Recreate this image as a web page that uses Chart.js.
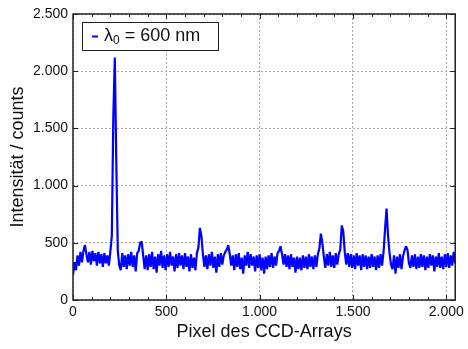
<!DOCTYPE html>
<html>
<head>
  <meta charset="utf-8">
  <title>Spektrum λ0 = 600 nm</title>
  <style>
    html, body { margin: 0; padding: 0; background: #fff; }
    .chart-container { position: relative; width: 468px; height: 349px; }
  </style>
</head>
<body>
  <div class="chart-container">
    <canvas id="myChart" width="468" height="349"></canvas>
  </div>

  <script src="https://cdn.jsdelivr.net/npm/chart.js"></script>
  <script>
    const counts = [
      220, 330, 260, 390, 300, 420, 330, 430, 480, 400, 330, 420, 310, 430, 340, 410,
      300, 420, 320, 400, 290, 410, 320, 390, 300, 420, 560, 1600, 2120, 1200, 430, 300,
      260, 410, 290, 390, 270, 400, 300, 420, 290, 390, 250, 410, 430, 500, 510, 390,
      270, 390, 260, 400, 290, 420, 270, 380, 240, 400, 300, 430, 280, 390, 260, 400,
      290, 420, 300, 380, 250, 400, 280, 410, 300, 390, 270, 410, 290, 380, 250, 400,
      280, 370, 260, 410, 460, 630, 560, 400, 290, 390, 270, 400, 300, 420, 280, 380,
      240, 400, 290, 410, 310, 390, 420, 440, 480, 400, 300, 390, 260, 400, 290, 410,
      270, 370, 230, 390, 300, 420, 280, 400, 300, 380, 250, 390, 280, 400, 260, 370,
      230, 380, 270, 390, 290, 410, 280, 380, 300, 410, 430, 470, 400, 310, 400, 290,
      390, 270, 400, 290, 370, 240, 380, 270, 370, 260, 390, 280, 380, 270, 400, 290,
      380, 270, 390, 290, 400, 450, 580, 500, 380, 280, 400, 300, 420, 290, 390, 280,
      410, 310, 400, 440, 650, 600, 420, 310, 410, 290, 400, 280, 390, 270, 410, 300,
      390, 260, 400, 290, 390, 270, 380, 280, 400, 290, 380, 260, 390, 280, 400, 300,
      420, 620, 800, 560, 410, 310, 270, 390, 230, 380, 280, 400, 270, 380, 430, 470,
      440, 320, 280, 390, 290, 400, 270, 380, 280, 400, 290, 390, 260, 380, 280, 400,
      300, 390, 250, 380, 290, 410, 280, 380, 270, 400, 290, 410, 280, 390, 300, 420,
      320
    ];
    const pixel = counts.map((_, i) => i * 8);

    const xTicks = [0, 500, 1000, 1500, 2000];
    const yTicks = [0, 500, 1000, 1500, 2000, 2500];
    const xMinorStep = 100;

    const xTitle = 'Pixel des CCD-Arrays';
    const yTitle = 'Intensität / counts';
    const legendSymbol = 'λ';
    const legendSub = '0';
    const legendRest = ' = 600 nm';

    const lineColor = '#0000ff';
    const fontFamily = '"Liberation Sans", Arial, sans-serif';

    const fmt = (v) => v.toLocaleString('de-DE');

    // Rahmen, Innen-Ticks und Legende
    const framePlugin = {
      id: 'frame',
      afterDatasetsDraw(chart) {
        const { ctx, chartArea: a, scales: { x, y } } = chart;
        ctx.save();
        ctx.strokeStyle = '#222';
        ctx.lineWidth = 1;
        ctx.beginPath();
        for (let v = 0; v <= x.max; v += xMinorStep) {
          const px = Math.round(x.getPixelForValue(v)) + 0.5;
          const len = xTicks.includes(v) ? 5 : 3;
          ctx.moveTo(px, a.bottom); ctx.lineTo(px, a.bottom - len);
          ctx.moveTo(px, a.top); ctx.lineTo(px, a.top + len);
        }
        yTicks.forEach((v) => {
          const py = Math.round(y.getPixelForValue(v)) + 0.5;
          ctx.moveTo(a.left, py); ctx.lineTo(a.left + 5, py);
          ctx.moveTo(a.right, py); ctx.lineTo(a.right - 5, py);
        });
        ctx.stroke();

        ctx.lineWidth = 1.5;
        ctx.strokeRect(a.left, a.top, a.right - a.left, a.bottom - a.top);

        // Legende
        const bx = a.left + 9, by = a.top + 8, bw = 136, bh = 28;
        ctx.fillStyle = '#fff';
        ctx.fillRect(bx, by, bw, bh);
        ctx.lineWidth = 1;
        ctx.strokeStyle = '#222';
        ctx.strokeRect(bx + 0.5, by + 0.5, bw, bh);
        const cy = by + bh / 2 + 0.5;
        ctx.strokeStyle = lineColor;
        ctx.lineWidth = 2;
        ctx.beginPath();
        ctx.moveTo(bx + 10, cy); ctx.lineTo(bx + 16, cy);
        ctx.stroke();
        ctx.fillStyle = '#111';
        ctx.textBaseline = 'middle';
        ctx.font = '18px ' + fontFamily;
        let tx = bx + 22;
        ctx.fillText(legendSymbol, tx, cy);
        tx += ctx.measureText(legendSymbol).width;
        ctx.font = '12px ' + fontFamily;
        ctx.fillText(legendSub, tx, cy + 4);
        tx += ctx.measureText(legendSub).width;
        ctx.font = '18px ' + fontFamily;
        ctx.fillText(legendRest, tx, cy);
        ctx.restore();
      }
    };

    const data = {
      datasets: [{
        label: legendSymbol + legendSub + legendRest,
        data: pixel.map((p, i) => ({ x: p, y: counts[i] })),
        borderColor: lineColor,
        backgroundColor: lineColor,
        borderWidth: 2.2,
        borderJoinStyle: 'bevel',
        pointRadius: 0,
        tension: 0,
        fill: false
      }]
    };

    const config = {
      type: 'line',
      data: data,
      options: {
        responsive: false,
        animation: false,
        events: [],
        layout: { padding: { top: 14, right: 9, left: 0, bottom: 0 } },
        plugins: {
          legend: { display: false },
          tooltip: { enabled: false }
        },
        scales: {
          x: {
            type: 'linear',
            min: 0,
            max: 2048,
            afterBuildTicks: (s) => { s.ticks = xTicks.map((v) => ({ value: v })); },
            afterFit: (s) => { s.height = 49; },
            grid: { color: '#aaaaaa', lineWidth: 1, drawTicks: false },
            border: { display: false, dash: [2, 2] },
            ticks: {
              color: '#111',
              padding: 4,
              maxRotation: 0,
              font: { family: fontFamily, size: 14 },
              callback: (v) => fmt(v)
            },
            title: {
              display: true,
              text: xTitle,
              color: '#111',
              font: { family: fontFamily, size: 18 },
              padding: { top: 0, bottom: 6 }
            }
          },
          y: {
            min: 0,
            max: 2500,
            afterBuildTicks: (s) => { s.ticks = yTicks.map((v) => ({ value: v })); },
            afterFit: (s) => { s.width = 73; },
            grid: { color: '#aaaaaa', lineWidth: 1, drawTicks: false },
            border: { display: false, dash: [2, 2] },
            ticks: {
              color: '#111',
              padding: 5,
              font: { family: fontFamily, size: 14 },
              callback: (v) => fmt(v)
            },
            title: {
              display: true,
              text: yTitle,
              color: '#111',
              font: { family: fontFamily, size: 18 },
              padding: { top: 7, bottom: 0 }
            }
          }
        }
      },
      plugins: [framePlugin]
    };

    const ctx = document.getElementById('myChart').getContext('2d');
    const myChart = new Chart(ctx, config);
  </script>
</body>
</html>
